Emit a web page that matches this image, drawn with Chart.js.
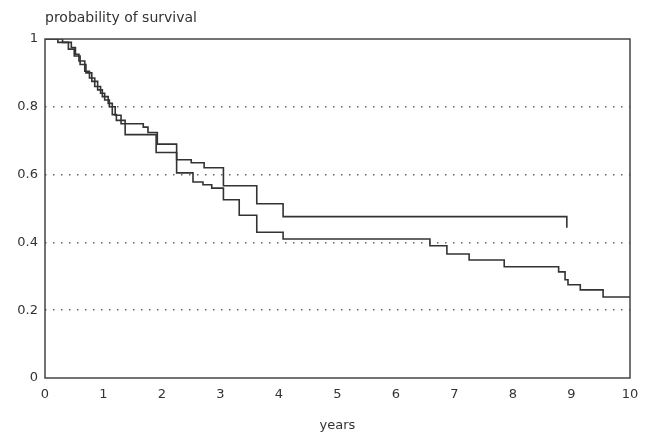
<!DOCTYPE html>
<html>
<head>
<meta charset="utf-8">
<script src="https://cdn.jsdelivr.net/npm/chart.js@4"></script>
<style>
  html, body { margin: 0; padding: 0; background: #fff; }
  #wrap { width: 657px; height: 437px; }
</style>
</head>
<body>
<div id="wrap"><canvas id="survivalChart" width="657" height="437"></canvas></div>
<script>
// ------------------------------------
// Data
// ------------------------------------
const xTicks = [0, 1, 2, 3, 4, 5, 6, 7, 8, 9, 10];
const yTicks = [0, 0.2, 0.4, 0.6, 0.8, 1];

// group A (upper curve after ~2 years)
const timesA = [0, 0.3, 0.45, 0.52, 0.58, 0.68, 0.76, 0.85, 0.95, 1.02, 1.1, 1.2, 1.3, 1.68, 1.76, 1.92, 2.25, 2.5, 2.72, 3.05, 3.62, 4.07, 8.92];
const survA = [1, 0.99, 0.975, 0.955, 0.935, 0.905, 0.885, 0.86, 0.84, 0.82, 0.8, 0.775, 0.75, 0.74, 0.724, 0.69, 0.644, 0.635, 0.62, 0.567, 0.514, 0.476, 0.443];

// group B (lower curve)
const timesB = [0, 0.22, 0.4, 0.5, 0.6, 0.7, 0.8, 0.9, 0.98, 1.08, 1.15, 1.22, 1.37, 1.9, 2.25, 2.53, 2.7, 2.85, 3.05, 3.32, 3.62, 4.07, 6.58, 6.87, 7.25, 7.85, 8.78, 8.89, 8.94, 9.15, 9.54, 10];
const survB = [1, 0.99, 0.97, 0.95, 0.925, 0.9, 0.875, 0.85, 0.83, 0.81, 0.777, 0.76, 0.718, 0.665, 0.605, 0.578, 0.57, 0.56, 0.526, 0.48, 0.43, 0.41, 0.39, 0.366, 0.348, 0.328, 0.313, 0.29, 0.275, 0.26, 0.239, 0.239];

const toPoints = (xs, ys) => xs.map((x, i) => ({ x: x, y: ys[i] }));

// ------------------------------------
// Small plugins: frame box + title text
// ------------------------------------
const framePlugin = {
    id: 'frame',
    afterDraw(chart) {
        const { ctx, chartArea: a } = chart;
        ctx.save();
        ctx.strokeStyle = '#444';
        ctx.lineWidth = 1.5;
        ctx.strokeRect(a.left, a.top, a.right - a.left, a.bottom - a.top);
        ctx.fillStyle = '#333';
        ctx.font = '14px "DejaVu Sans", sans-serif';
        ctx.textBaseline = 'middle';
        ctx.textAlign = 'left';
        ctx.fillText('probability of survival', a.left, 18);
        ctx.restore();
    }
};

function initChart() {
    const ctx = document.getElementById('survivalChart').getContext('2d');
    const lineStyle = {
        borderColor: '#333',
        borderWidth: 1.6,
        pointRadius: 0,
        stepped: true,
        fill: false
    };
    new Chart(ctx, {
        type: 'line',
        data: {
            datasets: [
                Object.assign({ label: 'A', data: toPoints(timesA, survA) }, lineStyle),
                Object.assign({ label: 'B', data: toPoints(timesB, survB) }, lineStyle)
            ]
        },
        options: {
            responsive: false,
            animation: false,
            layout: { padding: { left: 0, right: 27, top: 39, bottom: 0 } },
            plugins: {
                legend: { display: false },
                title: { display: false },
                tooltip: { enabled: false }
            },
            scales: {
                x: {
                    type: 'linear',
                    min: 0, max: 10,
                    afterBuildTicks: s => { s.ticks = xTicks.map(v => ({ value: v })); },
                    afterFit: s => { s.height = 59; },
                    grid: { display: false, drawTicks: false },
                    border: { display: false },
                    ticks: {
                        color: '#333',
                        padding: 9,
                        maxRotation: 0,
                        font: { family: '"DejaVu Sans", sans-serif', size: 13 }
                    },
                    title: {
                        display: true,
                        text: 'years',
                        color: '#333',
                        padding: { top: 0, bottom: 4 },
                        font: { family: '"DejaVu Sans", sans-serif', size: 13 }
                    }
                },
                y: {
                    type: 'linear',
                    min: 0, max: 1,
                    afterBuildTicks: s => { s.ticks = yTicks.map(v => ({ value: v })); },
                    afterFit: s => { s.width = 45; },
                    grid: {
                        drawTicks: false,
                        lineWidth: 1.5,
                        color: c => (c.tick && (c.tick.value === 0 || c.tick.value === 1)) ? 'rgba(0,0,0,0)' : '#666'
                    },
                    border: { display: false, dash: [1.5, 6.5] },
                    ticks: {
                        color: '#333',
                        padding: 7,
                        font: { family: '"DejaVu Sans", sans-serif', size: 13 },
                        callback: v => String(v)
                    }
                }
            }
        },
        plugins: [framePlugin]
    });
}

window.onload = function() {
    initChart();
};
</script>
</body>
</html>
